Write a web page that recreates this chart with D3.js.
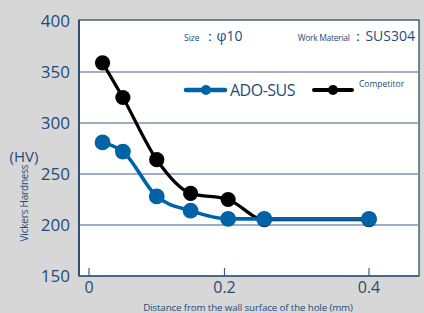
<!DOCTYPE html>
<html><head><meta charset="utf-8">
<script src="https://cdn.jsdelivr.net/npm/d3@7"></script>
<style>html,body{margin:0;padding:0;background:#d7d7d7;}svg{display:block;font-family:"Open Sans","Noto Sans",sans-serif;}</style>
</head><body>
<svg id="c" width="424" height="313"></svg>
<script>
const xTicks = [0, 0.2, 0.4];
const xTickLabels = ["0", "0.2", "0.4"];
const yTicks = [150, 200, 250, 300, 350, 400];
const adoX = [0.02, 0.05, 0.10, 0.15, 0.205, 0.255, 0.40];
const adoY = [281, 272, 228, 214, 206, 206, 206];
const compX = [0.02, 0.05, 0.10, 0.15, 0.205, 0.255, 0.40];
const compY = [359, 325, 264, 231, 225, 205.3, 205.3];
const seriesNames = ["ADO-SUS", "Competitor"];

const svg = d3.select("#c");
const textCol = "#1f4b7a", blue = "#0063a6", gridCol = "#7d94ab";
const L = 79, R = 419, T = 20, B = 276;
const x = d3.scaleLinear().domain([0, 0.2, 0.4]).range([89, 224.5, 369]);
const y = d3.scaleLinear().domain([150, 400]).range([B, 21]);

svg.append("rect").attr("x", L).attr("y", T).attr("width", R - L).attr("height", B - T)
  .attr("fill", "#fff").attr("stroke", "#1f3f66").attr("stroke-width", 1.2);

svg.append("g").selectAll("line").data(yTicks.filter(d => d > 150 && d < 400)).join("line")
  .attr("x1", L).attr("x2", R).attr("y1", d => y(d)).attr("y2", d => y(d))
  .attr("stroke", gridCol).attr("stroke-width", 1.5);

svg.append("line").attr("x1", L).attr("x2", R).attr("y1", B).attr("y2", B).attr("stroke", "#3d5f85").attr("stroke-width", 1.5);
svg.append("line").attr("x1", L).attr("x2", L).attr("y1", T).attr("y2", B).attr("stroke", "#1f3f66").attr("stroke-width", 1.5);

svg.append("g").selectAll("text").data(yTicks).join("text")
  .attr("x", 70).attr("y", d => y(d)).attr("dy", "0.35em").attr("text-anchor", "end")
  .attr("fill", textCol).attr("font-size", 17).text(d => d);

const xg = svg.append("g");
xg.selectAll("line").data(xTicks).join("line")
  .attr("x1", d => x(d)).attr("x2", d => x(d)).attr("y1", B - 8).attr("y2", B)
  .attr("stroke", "#3d5f85").attr("stroke-width", 1.2);
xg.selectAll("text").data(xTicks).join("text")
  .attr("x", d => x(d)).attr("y", 293).attr("text-anchor", "middle")
  .attr("fill", textCol).attr("font-size", 16).text((d, i) => xTickLabels[i]);

svg.append("text").attr("x", 248).attr("y", 311).attr("text-anchor", "middle")
  .attr("fill", textCol).attr("font-size", 9.8).attr("letter-spacing", -0.15)
  .text("Distance from the wall surface of the hole (mm)");

svg.append("text").attr("transform", "translate(28,203) rotate(-90)").attr("text-anchor", "middle")
  .attr("fill", textCol).attr("font-size", 10).attr("letter-spacing", -0.2).text("Vickers Hardness");
svg.append("text").attr("x", 24).attr("y", 162).attr("text-anchor", "middle")
  .attr("fill", textCol).attr("font-size", 15).text("(HV)");

const ann = svg.append("text").attr("y", 41).attr("fill", textCol);
ann.append("tspan").attr("x", 184).attr("font-size", 8.5).text("Size");
ann.append("tspan").attr("font-size", 14).attr("dx", 3).text("：φ10");
const ann2 = svg.append("text").attr("y", 41).attr("fill", textCol).attr("text-anchor", "end").attr("x", 415);
ann2.append("tspan").attr("font-size", 8.5).attr("letter-spacing", -0.3).text("Work Material ");
ann2.append("tspan").attr("font-size", 14).text("：SUS304");

const line = d3.line().x(d => x(d[0])).y(d => y(d[1])).curve(d3.curveMonotoneX);
const comp = compX.map((v, i) => [v, compY[i]]);
const ado = adoX.map((v, i) => [v, adoY[i]]);

function drawSeries(data, col, r, w) {
  svg.append("path").datum(data).attr("d", line).attr("fill", "none").attr("stroke", col).attr("stroke-width", w);
  svg.append("g").selectAll("circle").data(data).join("circle")
    .attr("cx", d => x(d[0])).attr("cy", d => y(d[1])).attr("r", r).attr("fill", col);
}
drawSeries(comp, "#000", 7.6, 3.2);
drawSeries(ado, blue, 7.9, 3.6);

const lg = svg.append("g");
lg.append("line").attr("x1", 186).attr("x2", 225).attr("y1", 90).attr("y2", 90).attr("stroke", blue).attr("stroke-width", 4.5).attr("stroke-linecap", "round");
lg.append("circle").attr("cx", 206).attr("cy", 90).attr("r", 5).attr("fill", blue);
lg.append("text").attr("x", 230).attr("y", 90).attr("dy", "0.36em").attr("font-size", 16).attr("fill", textCol).attr("letter-spacing", -0.5).text(seriesNames[0]);
lg.append("line").attr("x1", 314).attr("x2", 352).attr("y1", 90).attr("y2", 90).attr("stroke", "#000").attr("stroke-width", 4).attr("stroke-linecap", "round");
lg.append("circle").attr("cx", 333).attr("cy", 90).attr("r", 5).attr("fill", "#000");
lg.append("text").attr("x", 359).attr("y", 87).attr("font-size", 8.5).attr("fill", textCol).text(seriesNames[1]);
</script>
</body></html>
